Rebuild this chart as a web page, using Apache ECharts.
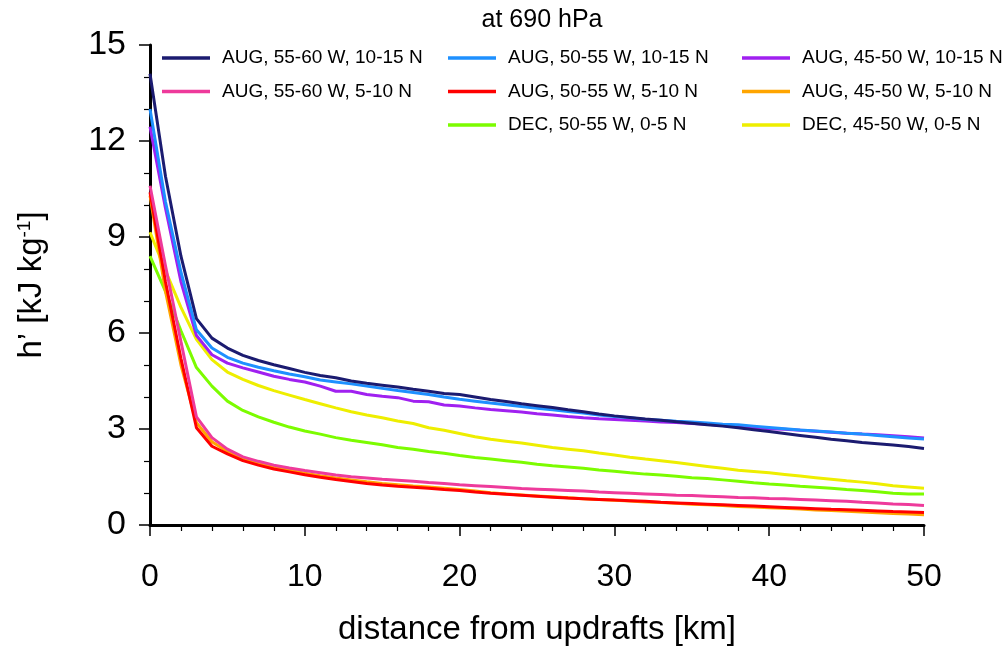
<!DOCTYPE html>
<html>
<head>
<meta charset="utf-8">
<script src="https://cdn.jsdelivr.net/npm/echarts@6/dist/echarts.min.js"></script>
<style>html,body{margin:0;padding:0;background:#fff;overflow:hidden}#c{width:1006px;height:651px}</style>
</head>
<body>
<div id="c"></div>
<script>
var distance = [];
for (var i = 0; i <= 50; i++) distance.push(i);

var aug5560_1015 = [14.1,10.9,8.4,6.45,5.84,5.53,5.30,5.14,5.01,4.89,4.77,4.67,4.60,4.50,4.43,4.37,4.31,4.24,4.18,4.11,4.08,4.00,3.92,3.86,3.79,3.73,3.67,3.60,3.54,3.47,3.41,3.36,3.31,3.27,3.23,3.18,3.13,3.09,3.04,2.98,2.92,2.86,2.80,2.74,2.68,2.63,2.58,2.54,2.50,2.45,2.39];
var aug5055_1015 = [13.0,10.1,7.9,6.1,5.53,5.24,5.06,4.93,4.82,4.72,4.63,4.53,4.47,4.41,4.34,4.27,4.20,4.14,4.08,4.00,3.93,3.87,3.81,3.76,3.70,3.65,3.60,3.55,3.50,3.44,3.39,3.35,3.30,3.27,3.24,3.22,3.19,3.15,3.13,3.09,3.05,3.01,2.97,2.94,2.91,2.87,2.84,2.80,2.76,2.72,2.69];
var aug4550_1015 = [12.45,9.9,7.6,5.92,5.32,5.06,4.91,4.78,4.65,4.55,4.47,4.34,4.18,4.18,4.08,4.02,3.98,3.87,3.85,3.75,3.72,3.66,3.61,3.57,3.53,3.48,3.44,3.39,3.35,3.32,3.30,3.27,3.25,3.22,3.20,3.17,3.15,3.11,3.08,3.05,3.01,2.99,2.96,2.93,2.90,2.87,2.84,2.82,2.79,2.76,2.72];
var aug5560_0510 = [10.6,8.1,5.73,3.38,2.73,2.37,2.13,1.99,1.87,1.78,1.70,1.63,1.56,1.51,1.47,1.43,1.40,1.37,1.33,1.30,1.26,1.23,1.20,1.17,1.14,1.12,1.10,1.08,1.06,1.03,1.01,0.99,0.97,0.95,0.93,0.92,0.90,0.88,0.86,0.85,0.83,0.82,0.80,0.78,0.76,0.74,0.71,0.69,0.66,0.64,0.61];
var aug5055_0510 = [10.4,7.6,5.2,3.04,2.46,2.22,2.01,1.87,1.75,1.66,1.57,1.49,1.42,1.36,1.30,1.25,1.21,1.18,1.15,1.11,1.08,1.03,0.99,0.96,0.93,0.90,0.87,0.84,0.82,0.80,0.78,0.76,0.74,0.71,0.69,0.67,0.65,0.63,0.61,0.59,0.57,0.55,0.53,0.51,0.49,0.48,0.46,0.44,0.42,0.41,0.39];
var aug4550_0510 = [10.3,7.3,5.0,3.2,2.6,2.3,2.08,1.93,1.80,1.71,1.62,1.54,1.47,1.41,1.35,1.30,1.26,1.22,1.19,1.15,1.11,1.06,1.01,0.97,0.94,0.91,0.88,0.85,0.82,0.80,0.77,0.75,0.72,0.70,0.68,0.65,0.63,0.61,0.58,0.56,0.54,0.52,0.50,0.47,0.45,0.43,0.41,0.38,0.36,0.34,0.32];
var dec5055_0005 = [8.4,7.3,6.07,4.92,4.34,3.87,3.58,3.38,3.21,3.06,2.94,2.84,2.73,2.65,2.58,2.51,2.42,2.37,2.30,2.24,2.17,2.11,2.06,2.01,1.96,1.90,1.85,1.81,1.77,1.72,1.68,1.63,1.59,1.56,1.52,1.48,1.45,1.41,1.37,1.32,1.28,1.25,1.21,1.18,1.15,1.11,1.08,1.04,0.99,0.97,0.97];
var dec4550_0005 = [9.15,7.95,6.8,5.8,5.17,4.78,4.55,4.36,4.20,4.06,3.92,3.79,3.66,3.54,3.44,3.35,3.25,3.17,3.04,2.96,2.86,2.76,2.68,2.62,2.56,2.49,2.42,2.37,2.32,2.25,2.19,2.12,2.06,2.01,1.95,1.89,1.83,1.77,1.71,1.67,1.63,1.58,1.53,1.48,1.43,1.38,1.34,1.29,1.23,1.19,1.15];

var seriesNames = ["AUG, 55-60 W, 10-15 N","AUG, 50-55 W, 10-15 N","AUG, 45-50 W, 10-15 N",
                   "AUG, 55-60 W, 5-10 N","AUG, 50-55 W, 5-10 N","AUG, 45-50 W, 5-10 N",
                   "DEC, 50-55 W, 0-5 N","DEC, 45-50 W, 0-5 N"];
var seriesValues = [aug5560_1015,aug5055_1015,aug4550_1015,aug5560_0510,aug5055_0510,aug4550_0510,dec5055_0005,dec4550_0005];
var seriesColors = ["#1b1b70","#1e90ff","#a020f0","#ee3a9b","#ff0000","#ffa500","#7cfc00","#eeee00"];
// later entries are drawn on top
var drawOrder = [6,7,5,4,3,2,1,0];

var yTicks = [0,3,6,9,12,15];
var xTicks = [0,10,20,30,40,50];

var FONT = "Liberation Sans";
var series = drawOrder.map(function (k, idx) {
  return {
    name: seriesNames[k],
    type: 'line',
    data: distance.map(function (d, i) { return [d, seriesValues[k][i]]; }),
    showSymbol: false,
    symbol: 'none',
    lineStyle: { width: 3, color: seriesColors[k] },
    itemStyle: { color: seriesColors[k] },
    z: 2 + idx,
    animation: false
  };
});

function legendCol(names, left) {
  return {
    orient: 'vertical', left: left, top: 48,
    data: names, icon: 'rect', itemWidth: 48, itemHeight: 3.5,
    itemGap: 13.5, padding: 0, selectedMode: false,
    textStyle: { fontFamily: FONT, fontSize: 19, color: '#000', lineHeight: 20, padding: [0,0,0,7] }
  };
}

var chart = echarts.init(document.getElementById('c'), null, { renderer: 'canvas', width: 1006, height: 651 });
chart.setOption({
  animation: false,
  backgroundColor: '#fff',
  title: {
    text: 'at 690 hPa', left: 537, top: 3, textAlign: 'center',
    textStyle: { fontFamily: FONT, fontSize: 25, fontWeight: 'normal', color: '#000' }
  },
  legend: [
    legendCol([seriesNames[0], seriesNames[3]], 162),
    legendCol([seriesNames[1], seriesNames[4], seriesNames[6]], 448),
    legendCol([seriesNames[2], seriesNames[5], seriesNames[7]], 742)
  ],
  grid: { left: 150, right: 82, top: 45, bottom: 117, containLabel: false },
  xAxis: {
    type: 'value', min: xTicks[0], max: xTicks[xTicks.length - 1], interval: 10,
    name: 'distance from updrafts [km]', nameLocation: 'middle', nameGap: 88,
    nameTextStyle: { fontFamily: FONT, fontSize: 33, color: '#000' },
    axisLine: { show: true, onZero: false, lineStyle: { color: '#000', width: 3 } },
    axisTick: { show: true, inside: false, length: 11, lineStyle: { color: '#000', width: 1.5 } },
    minorTick: { show: true, splitNumber: 5, length: 6, lineStyle: { color: '#000', width: 1.2 } },
    axisLabel: { fontFamily: FONT, fontSize: 32, color: '#000', margin: 36 },
    splitLine: { show: false }
  },
  yAxis: {
    type: 'value', min: yTicks[0], max: yTicks[yTicks.length - 1], interval: 3,
    name: "h\u2019 [kJ kg{sup|-1}]", nameLocation: 'middle', nameGap: 102, nameRotate: 90,
    nameTextStyle: { fontFamily: FONT, fontSize: 33, color: '#000',
      rich: { sup: { fontFamily: FONT, fontSize: 19, color: '#000', verticalAlign: 'top', padding: [0,0,14,0] } } },
    axisLine: { show: true, onZero: false, lineStyle: { color: '#000', width: 3 } },
    axisTick: { show: true, inside: false, length: 11, lineStyle: { color: '#000', width: 1.5 } },
    minorTick: { show: true, splitNumber: 3, length: 6, lineStyle: { color: '#000', width: 1.2 } },
    axisLabel: { fontFamily: FONT, fontSize: 34, color: '#000', margin: 24 },
    splitLine: { show: false }
  },
  series: series
});
</script>
</body>
</html>
